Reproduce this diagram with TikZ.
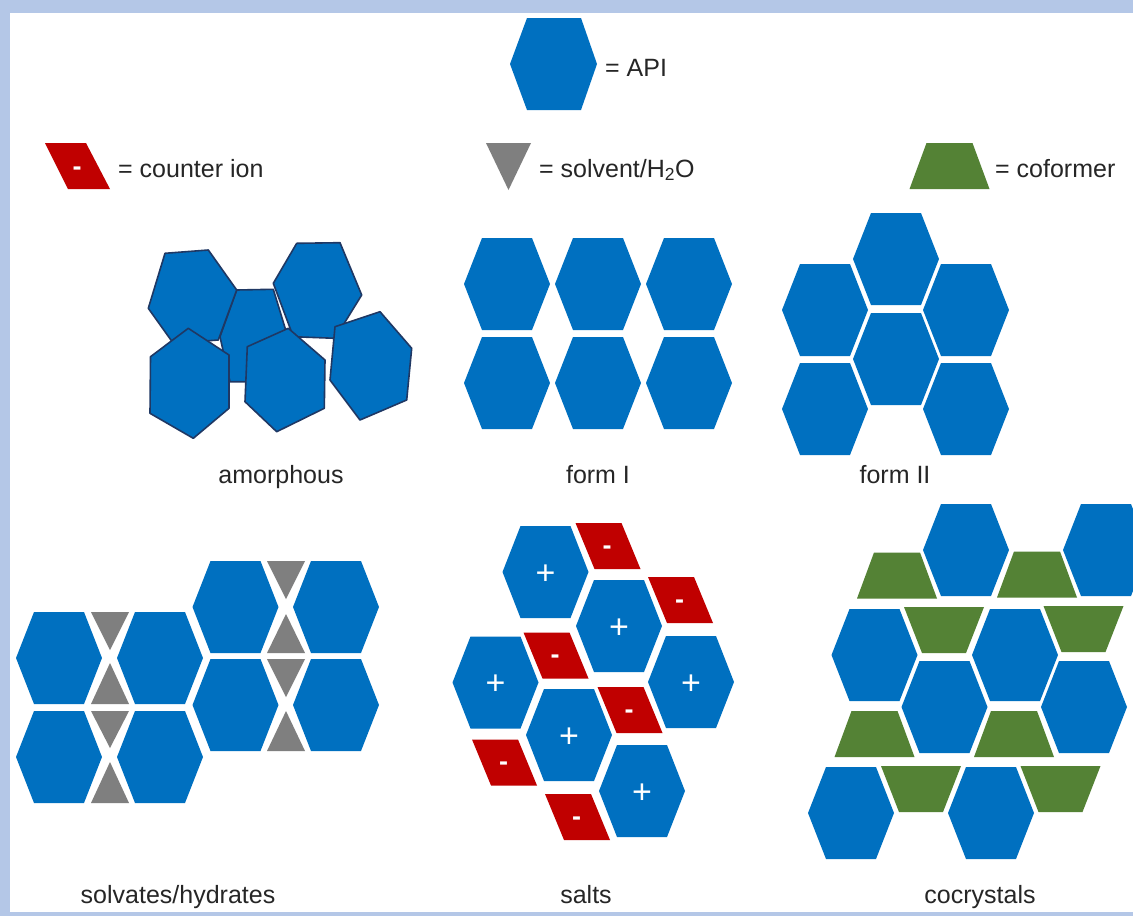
\documentclass[tikz,border=0pt]{standalone}
\usepackage{fontspec}
\setmainfont{Liberation Sans}
\definecolor{framebl}{HTML}{B4C7E7}
\definecolor{apiblue}{HTML}{0070C0}
\definecolor{edgeblue}{HTML}{1F3864}
\definecolor{ionred}{HTML}{C00000}
\definecolor{solvgray}{HTML}{7F7F7F}
\definecolor{cogreen}{HTML}{548235}
\definecolor{txtgray}{HTML}{262626}
\tikzset{
  lbl/.style={anchor=base, text=txtgray, inner sep=0pt, font=\fontsize{25}{30}\selectfont},
  lgd/.style={lbl, anchor=base west},
  plussign/.style={anchor=base, text=white, inner sep=0pt, font=\fontsize{34}{34}\selectfont},
  minussign/.style={anchor=base, text=white, inner sep=0pt, font=\bfseries\fontsize{27}{27}\selectfont},
  amorph/.style={fill=apiblue, draw=edgeblue, line width=1.6pt, line join=round},
  apihex/.pic={\fill[apiblue] (-43,0) -- (-25,-46) -- (25,-46) -- (43,0) -- (25,46) -- (-25,46) -- cycle;},
  cation/.pic={\fill[apiblue] (-43,0) -- (-25,-46) -- (25,-46) -- (43,0) -- (25,46) -- (-25,46) -- cycle;
               \node[plussign] (-s) at (0,12) {+};},
  anion/.pic={\fill[ionred] (-32.5,-23) -- (13.5,-23) -- (32.5,23) -- (-13.5,23) -- cycle;
              \node[minussign] (-s) at (-1,8) {-};},
  cofup/.pic={\fill[cogreen] (-23,-23) -- (23,-23) -- (40,23) -- (-40,23) -- cycle;},
  cofdown/.pic={\fill[cogreen] (-40,-23) -- (40,-23) -- (22,23) -- (-22,23) -- cycle;},
}
\begin{document}
\begin{tikzpicture}[x=1pt,y=-1pt]
\useasboundingbox (0,0) rectangle (1133,916);
\fill[framebl] (0,0) rectangle (1133,916);
\fill[white] (10,13) rectangle (1133,912);
\begin{scope}
\clip (10,13) rectangle (1133,912);

% ---------- legend ----------
\fill[apiblue] (510,64) -- (527,18) -- (581,18) -- (597,64) -- (581,110) -- (527,110) -- cycle;
\node[lgd] (lapi) at (605,76) {= API};

\fill[ionred] (45,143) -- (86,143) -- (110,189) -- (68,189) -- cycle;
\node[minussign] (lminus) at (77,175) {-};
\node[lgd] (lion) at (118,177) {= counter ion};

\fill[solvgray] (486,143) -- (531,143) -- (508.5,190) -- cycle;
\node[lgd] (lsolv) at (539,177) {= solvent/H\textsubscript{2}O};

\pic (lcof) at (949.5,166) {cofup};
\node[lgd] (lcoft) at (995,177) {= coformer};

% ---------- amorphous ----------
\path[amorph] (236.7,290) -- (273.3,289.3) -- (286.7,333.3) -- (270,381.7) -- (230,381.7) -- (220,336.7) -- cycle;
\path[amorph] (165,253.3) -- (208.3,250) -- (236.7,290) -- (218.3,340) -- (173.3,343.3) -- (148.3,308.3) -- cycle;
\path[amorph] (296.7,243.3) -- (340,242.7) -- (361.7,295) -- (335,338.3) -- (293.3,336.7) -- (273.3,283.3) -- cycle;
\path[amorph] (188.3,328.3) -- (229,355) -- (229,408.3) -- (193.3,438.3) -- (150,413.3) -- (150.5,356.7) -- cycle;
\path[amorph] (288.3,328.3) -- (325,360) -- (324.3,408.3) -- (276.7,431.7) -- (245,401.7) -- (247.3,346.7) -- cycle;
\path[amorph] (380,311.7) -- (411.7,348.3) -- (406.7,400) -- (360,420) -- (330,380) -- (335,326.7) -- cycle;
\node[lbl] (tamorph) at (281,483) {amorphous};

% ---------- form I ----------
\foreach \cx in {507,598,689}{
  \foreach \cy in {284,383}{ \pic at (\cx,\cy) {apihex}; }
}
\node[lbl] (tform1) at (598,483) {form I};

% ---------- form II ----------
\foreach \cx/\cy in {896/259, 825/310, 966/310, 896/359, 825/409, 966/409}{
  \pic at (\cx,\cy) {apihex};
}
\node[lbl] (tform2) at (895,483) {form II};

% ---------- solvates / hydrates ----------
\foreach \cx/\cy in {59/658, 160/658, 59/757, 160/757, 235.5/607, 336/607, 235.5/705, 336/705}{
  \pic at (\cx,\cy) {apihex};
}
\fill[solvgray] (91,612) -- (129,612) -- (110,650) -- cycle;
\fill[solvgray] (91,704) -- (129,704) -- (110,663) -- cycle;
\fill[solvgray] (91,711) -- (129,711) -- (110,748) -- cycle;
\fill[solvgray] (91,803) -- (129,803) -- (110,762) -- cycle;
\fill[solvgray] (267,561) -- (305,561) -- (286,599) -- cycle;
\fill[solvgray] (267,653) -- (305,653) -- (286,614) -- cycle;
\fill[solvgray] (267,659) -- (305,659) -- (286,697) -- cycle;
\fill[solvgray] (267,751) -- (305,751) -- (286,711) -- cycle;
\node[lbl] (tsolv) at (178,903) {solvates/hydrates};

% ---------- salts ----------
\pic (s1) at (545.5,572) {cation};
\pic (s2) at (619,626) {cation};
\pic (s3) at (495.5,682.5) {cation};
\pic (s4) at (691,682) {cation};
\pic (s5) at (569,735) {cation};
\pic (s6) at (642,791) {cation};
\pic (r1) at (608,546) {anion};
\pic (r2) at (680.5,600) {anion};
\pic (r3) at (556,655.5) {anion};
\pic (r4) at (630,710) {anion};
\pic (r5) at (504.5,762.5) {anion};
\pic (r6) at (577.5,817) {anion};
\node[lbl] (tsalts) at (586,903) {salts};

% ---------- cocrystals ----------
\foreach \cx/\cy in {966/550, 1106/550, 874.5/655, 1015/655, 944.5/707, 1084/707, 851/813, 991/813}{
  \pic at (\cx,\cy) {apihex};
}
\foreach \cx/\cy in {897/575.5, 1037/574.5, 874.5/734, 1014/734}{
  \pic at (\cx,\cy) {cofup};
}
\foreach \cx/\cy in {944/630, 1083.5/629, 921/789, 1060.5/789}{
  \pic at (\cx,\cy) {cofdown};
}
\node[lbl] (tcoc) at (980,903) {cocrystals};
\end{scope}
\end{tikzpicture}
\end{document}
